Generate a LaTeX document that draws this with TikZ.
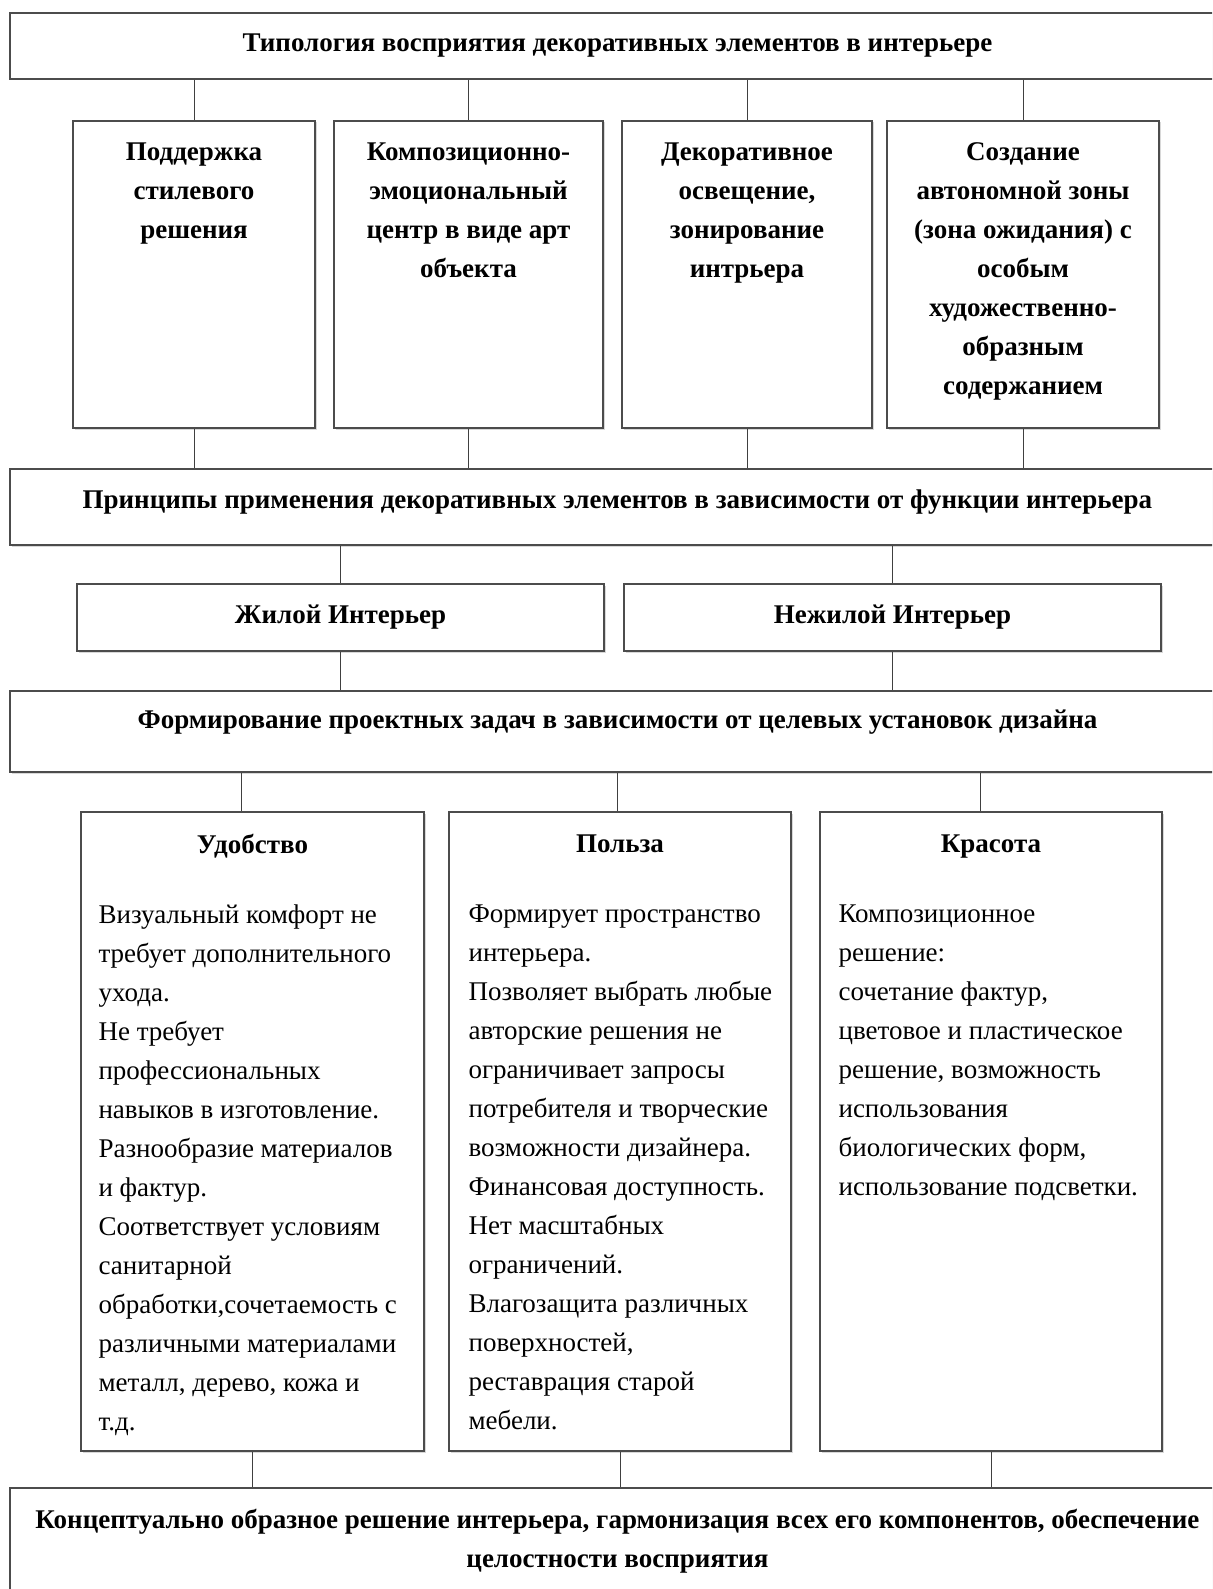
\documentclass[tikz,border=0pt]{standalone}
\usepackage{fontspec}
\setmainfont{Liberation Serif}
\usetikzlibrary{shadows}
\tikzset{
  box/.style={rectangle, draw=black!70, line width=1.3pt, fill=white, inner sep=0pt,
    drop shadow={shadow xshift=1.5pt, shadow yshift=-1.5pt, fill=black!30}},
  link/.style={draw=black!75, line width=1pt},
  head/.style={font=\fontsize{27}{39}\selectfont\bfseries, align=center, inner sep=0pt},
  body/.style={font=\fontsize{27}{39}\selectfont, align=left, inner sep=0pt, anchor=north west},
}
\begin{document}
\begin{tikzpicture}[x=1pt, y=-1pt]
  \useasboundingbox (0,0) rectangle (1212,1589);
  \clip (0,0) rectangle (1212,1589);

  % typology and its four kinds
  \node[box, minimum width=1215pt, minimum height=66pt] (typ) at (617.5,46) {};
  \node[head] at (typ.center) {Типология восприятия декоративных элементов в интерьере};
  \node[box, minimum width=242pt, minimum height=307pt] (s1) at (194,274.5) {};
  \node[box, minimum width=269pt, minimum height=307pt] (s2) at (468.5,274.5) {};
  \node[box, minimum width=250pt, minimum height=307pt] (s3) at (747,274.5) {};
  \node[box, minimum width=272pt, minimum height=307pt] (s4) at (1023,274.5) {};
  \node[head, anchor=north] at ([yshift=-22pt]s1.north) {Поддержка\\стилевого\\решения};
  \node[head, anchor=north] at ([yshift=-22pt]s2.north) {Композиционно-\\эмоциональный\\центр в виде арт\\объекта};
  \node[head, anchor=north] at ([yshift=-22pt]s3.north) {Декоративное\\освещение,\\зонирование\\интрьера};
  \node[head, anchor=north] at ([yshift=-22pt]s4.north) {Создание\\автономной зоны\\(зона ожидания) с\\особым\\художественно-\\образным\\содержанием};

  % principles
  \node[box, minimum width=1215pt, minimum height=76pt] (prin) at (617.5,507) {};
  \node[head] at ([yshift=5pt]prin.center) {Принципы применения декоративных элементов в зависимости от функции интерьера};
  \node[box, minimum width=527pt, minimum height=67pt] (live) at (340.5,617.5) {};
  \node[box, minimum width=537pt, minimum height=67pt] (pub) at (892.5,617.5) {};
  \node[head] at (live.center) {Жилой Интерьер};
  \node[head] at (pub.center) {Нежилой Интерьер};

  % design tasks
  \node[box, minimum width=1215pt, minimum height=81pt] (form) at (617.5,731.5) {};
  \node[head] at ([yshift=9pt]form.center) {Формирование проектных задач в зависимости от целевых установок дизайна};
  \node[box, minimum width=343pt, minimum height=639pt] (u1) at (252.5,1131.5) {};
  \node[box, minimum width=342pt, minimum height=639pt] (u2) at (620,1131.5) {};
  \node[box, minimum width=342pt, minimum height=639pt] (u3) at (991,1131.5) {};
  \node[head, anchor=north] at ([yshift=-23pt]u1.north) {Удобство};
  \node[head, anchor=north] at ([yshift=-23pt]u2.north) {Польза};
  \node[head, anchor=north] at ([yshift=-23pt]u3.north) {Красота};
  \node[body] at ([xshift=18pt, yshift=-93pt]u1.north west) {Визуальный комфорт не\\требует дополнительного\\ухода.\\Не требует\\профессиональных\\навыков в изготовление.\\Разнообразие материалов\\и фактур.\\Соответствует условиям\\санитарной\\обработки,сочетаемость с\\различными материалами\\металл, дерево, кожа и\\т.д.};
  \node[body] at ([xshift=20pt, yshift=-93pt]u2.north west) {Формирует пространство\\интерьера.\\Позволяет выбрать любые\\авторские решения не\\ограничивает запросы\\потребителя и творческие\\возможности дизайнера.\\Финансовая доступность.\\Нет масштабных\\ограничений.\\Влагозащита различных\\поверхностей,\\реставрация старой\\мебели.};
  \node[body] at ([xshift=19pt, yshift=-93pt]u3.north west) {Композиционное\\решение:\\сочетание фактур,\\цветовое и пластическое\\решение, возможность\\использования\\биологических форм,\\использование подсветки.};

  % result
  \node[box, minimum width=1215pt, minimum height=140pt] (res) at (617.5,1558) {};
  \node[head, anchor=north] at ([yshift=-22pt]res.north) {Концептуально образное решение интерьера, гармонизация всех его компонентов, обеспечение\\целостности восприятия};

  % connectors
  \draw[link] (typ.south -| s1.north) -- (s1.north);
  \draw[link] (typ.south -| s2.north) -- (s2.north);
  \draw[link] (typ.south -| s3.north) -- (s3.north);
  \draw[link] (typ.south -| s4.north) -- (s4.north);
  \draw[link] (s1.south) -- (s1.south |- prin.north);
  \draw[link] (s2.south) -- (s2.south |- prin.north);
  \draw[link] (s3.south) -- (s3.south |- prin.north);
  \draw[link] (s4.south) -- (s4.south |- prin.north);
  \draw[link] (prin.south -| live.north) -- (live.north);
  \draw[link] (prin.south -| pub.north) -- (pub.north);
  \draw[link] (live.south) -- (live.south |- form.north);
  \draw[link] (pub.south) -- (pub.south |- form.north);
  \draw[link] ([xshift=-11pt]form.south -| u1.north) -- ([xshift=-11pt]u1.north);
  \draw[link] ([xshift=-3pt]form.south -| u2.north) -- ([xshift=-3pt]u2.north);
  \draw[link] ([xshift=-11pt]form.south -| u3.north) -- ([xshift=-11pt]u3.north);
  \draw[link] (u1.south) -- (u1.south |- res.north);
  \draw[link] (u2.south) -- (u2.south |- res.north);
  \draw[link] (u3.south) -- (u3.south |- res.north);
\end{tikzpicture}
\end{document}
